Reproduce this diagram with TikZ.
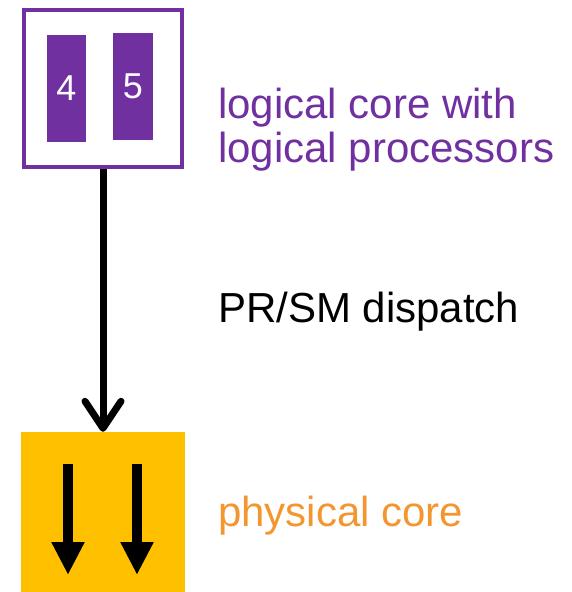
\documentclass[tikz,border=0pt]{standalone}
\usepackage{fontspec}
\setmainfont{Liberation Sans}
\usetikzlibrary{arrows.meta}
\definecolor{corepurple}{RGB}{112,48,160}
\definecolor{coreorange}{RGB}{255,192,0}
\definecolor{labelorange}{RGB}{244,150,48}
\tikzset{
  lcpu/.style={fill=corepurple, draw=none, inner sep=0pt, text=white,
    minimum width=39pt, minimum height=107pt,
    font=\fontsize{36}{36}\selectfont},
  label/.style={anchor=base west, inner sep=0pt,
    font=\fontsize{42}{44}\selectfont},
  dispatch/.style={line width=7pt,
    -{Straight Barb[round, length=27pt, width=36pt]}},
  inner arrow/.style={line width=10pt,
    -{Triangle[length=33pt, width=31pt]}}
}
\begin{document}
\begin{tikzpicture}[x=1pt, y=-1pt]
  \useasboundingbox (0,0) rectangle (571,592);

  % logical core with its two logical processors
  \node[draw=corepurple, line width=4pt, fill=white, inner sep=0pt,
        minimum width=158pt, minimum height=157pt] (core) at (103,88.5) {};
  \node[lcpu] (lp4) at (66.5,88.5) {4};
  \node[lcpu, minimum width=40pt] (lp5) at (133,86.5) {5};

  % physical core
  \node[fill=coreorange, draw=none, inner sep=0pt,
        minimum width=164pt, minimum height=162pt] (phys) at (103,513) {};

  % PR/SM dispatch arrow
  \draw[dispatch] (core.south) -- (phys.north);

  % arrows inside the physical core
  \coordinate (a1s) at (68,464);
  \coordinate (a1e) at (68,575);
  \coordinate (a2s) at (137,464);
  \coordinate (a2e) at (137,575);
  \draw[inner arrow] (a1s) -- (a1e);
  \draw[inner arrow] (a2s) -- (a2e);

  % labels
  \node[label, text=corepurple] (lcl1) at (218,118) {logical core with};
  \node[label, text=corepurple] (lcl2) at (218,162) {logical processors};
  \node[label] (disp) at (218,322) {PR/SM dispatch};
  \node[label, text=labelorange] (pcl) at (218,526) {physical core};
\end{tikzpicture}
\end{document}
